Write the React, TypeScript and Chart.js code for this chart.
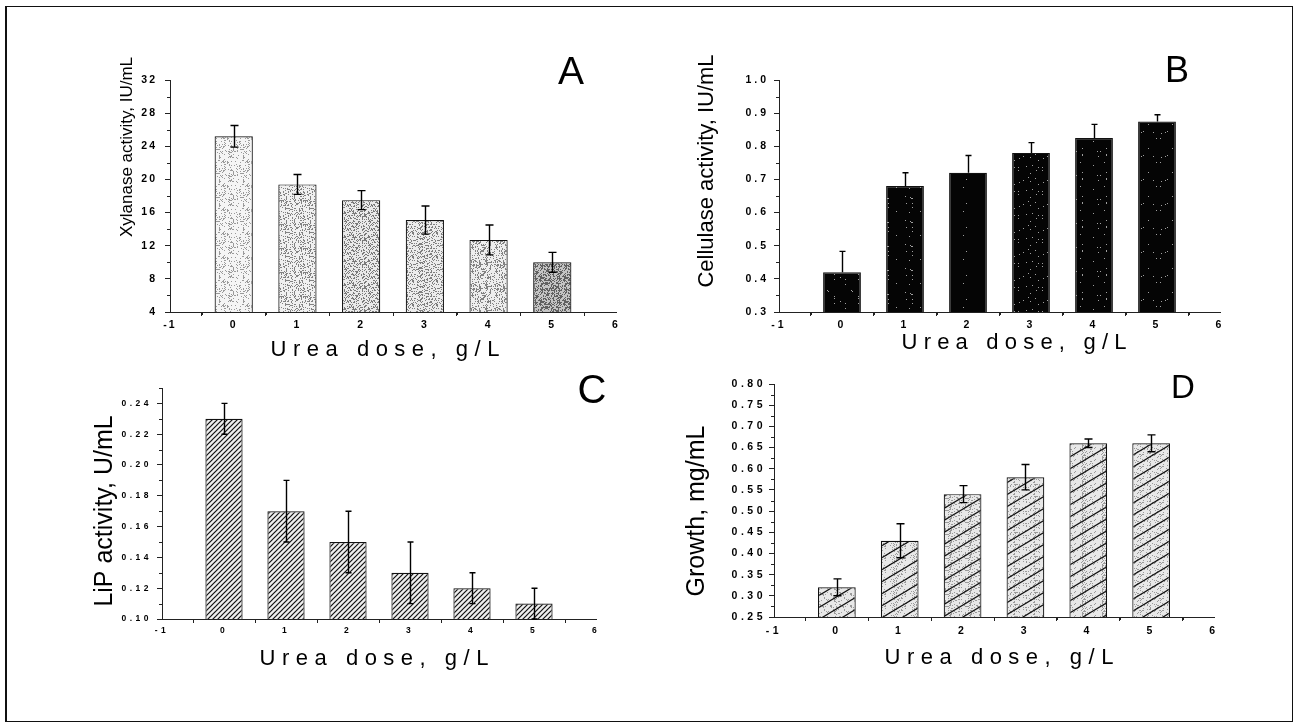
import React, { useEffect, useRef } from "react";
import { Chart, registerables } from "chart.js";
Chart.register(...registerables);

// ---------- data ----------
const doses = [0, 1, 2, 3, 4, 5];

const xylanase = [25.2, 19.4, 17.5, 15.1, 12.7, 10.0];
const xylanaseErr = [1.3, 1.2, 1.15, 1.7, 1.8, 1.2];

const cellulase = [0.42, 0.68, 0.72, 0.78, 0.825, 0.875];
const cellulaseErr = [0.063, 0.04, 0.052, 0.031, 0.041, 0.02];

const lip = [0.23, 0.17, 0.15, 0.13, 0.12, 0.11];
const lipErr = [0.01, 0.02, 0.02, 0.02, 0.01, 0.01];

const growth = [0.32, 0.43, 0.54, 0.58, 0.66, 0.66];
const growthErr = [0.02, 0.04, 0.02, 0.03, 0.01, 0.02];

const xAxisTitle = "Urea dose, g/L";
const yTitles = [
  "Xylanase activity, IU/mL",
  "Cellulase activity, IU/mL",
  "LiP activity, U/mL",
  "Growth, mg/mL",
];
const panelLetters = ["A", "B", "C", "D"];

const xMin = -1;
const xMax = 6;
const xStep = 1;

const yMins = [4, 0.3, 0.1, 0.25];
const yMaxs = [32, 1.0, 0.25, 0.8];
const ySteps = [4, 0.1, 0.02, 0.05];
const yDecimals = [0, 1, 2, 2];

const seriesValues = [xylanase, cellulase, lip, growth];
const seriesErrors = [xylanaseErr, cellulaseErr, lipErr, growthErr];

// ---------- styles / layout ----------
const FONT = '"Liberation Sans", Arial, Helvetica, sans-serif';

type FillSpec = {
  w: number;
  h: number;
  base: string;
  dot?: string;
  density?: number;
  seed?: number;
  hatch?: { color: string; width: number };
};

type PanelLayout = {
  left: number;
  top: number;
  w: number;
  h: number;
  area: { l: number; r: number; t: number; b: number };
  tickSize: number;
  tickSpacing: number;
  yTickPad: number;
  xTickPad: number;
  yTitle: { x: number; y: number; size: number };
  xTitle: { x: number; y: number; size: number; spacing: number };
  letter: { x: number; y: number; size: number };
  fills: FillSpec[];
  upOnly: boolean;
  cap: number;
};

const stippleA = (base: string, dot: string, density: number, seed: number): FillSpec => ({
  w: 24, h: 24, base, dot, density, seed,
});

const layouts: PanelLayout[] = [
  {
    left: 0, top: 0, w: 648, h: 362,
    area: { l: 170, r: 616, t: 80, b: 312 },
    tickSize: 10.5, tickSpacing: 2, yTickPad: 8, xTickPad: 3,
    yTitle: { x: 127, y: 147, size: 17 },
    xTitle: { x: 385, y: 350, size: 22, spacing: 6.5 },
    letter: { x: 571, y: 73, size: 39 },
    fills: [
      stippleA("#f5f5f5", "#9a9a9a", 0.2, 11),
      stippleA("#f0f0f0", "#828282", 0.25, 23),
      stippleA("#eaeaea", "#7a7a7a", 0.3, 37),
      stippleA("#ececec", "#7e7e7e", 0.28, 41),
      stippleA("#eeeeee", "#828282", 0.26, 53),
      stippleA("#c4c4c4", "#606060", 0.42, 67),
    ],
    upOnly: false,
    cap: 4,
  },
  {
    left: 648, top: 0, w: 649, h: 362,
    area: { l: 131, r: 572, t: 80, b: 312 },
    tickSize: 10.5, tickSpacing: 3, yTickPad: 5, xTickPad: 3,
    yTitle: { x: 59, y: 171, size: 22 },
    xTitle: { x: 366, y: 343, size: 22, spacing: 6.2 },
    letter: { x: 529, y: 72, size: 36 },
    fills: Array.from({ length: 6 }, (_, i) => ({
      w: 24, h: 24, base: "#050505", dot: "#a0a0a0", density: 0.012, seed: 100 + i * 7,
    })),
    upOnly: true,
    cap: 3,
  },
  {
    left: 0, top: 362, w: 648, h: 362,
    area: { l: 162, r: 596, t: 26, b: 257 },
    tickSize: 8.5, tickSpacing: 3.5, yTickPad: 5, xTickPad: 3,
    yTitle: { x: 105, y: 149, size: 25 },
    xTitle: { x: 374, y: 297, size: 22, spacing: 6.5 },
    letter: { x: 592, y: 30, size: 40 },
    fills: Array.from({ length: 6 }, () => ({
      w: 5, h: 5, base: "#eeeeee", hatch: { color: "#111111", width: 1.2 },
    })),
    upOnly: false,
    cap: 3,
  },
  {
    left: 648, top: 362, w: 649, h: 362,
    area: { l: 126, r: 566, t: 22, b: 255 },
    tickSize: 10.5, tickSpacing: 3.5, yTickPad: 3, xTickPad: 4,
    yTitle: { x: 49, y: 149, size: 25 },
    xTitle: { x: 351, y: 296, size: 22, spacing: 6.5 },
    letter: { x: 535, y: 27, size: 33 },
    fills: Array.from({ length: 6 }, (_, i) => ({
      w: 20, h: 12, base: "#e8e8e8", dot: "#9a9a9a", density: 0.18, seed: 300 + i * 5,
      hatch: { color: "#111111", width: 1.2 },
    })),
    upOnly: false,
    cap: 4,
  },
];

// deterministic texture generator (style only)
function lcg(seed: number) {
  let s = seed >>> 0;
  return () => {
    s = (Math.imul(s, 1664525) + 1013904223) >>> 0;
    return s / 4294967296;
  };
}

function makeFill(ctx: CanvasRenderingContext2D, f: FillSpec): CanvasPattern | string {
  const c = document.createElement("canvas");
  c.width = f.w;
  c.height = f.h;
  const g = c.getContext("2d");
  if (!g) return f.base;
  g.fillStyle = f.base;
  g.fillRect(0, 0, f.w, f.h);
  if (f.dot && f.density) {
    const r = lcg(f.seed || 1);
    g.fillStyle = f.dot;
    for (let y = 0; y < f.h; y++) {
      for (let x = 0; x < f.w; x++) {
        if (r() < f.density) g.fillRect(x, y, 1, 1);
      }
    }
  }
  if (f.hatch) {
    g.strokeStyle = f.hatch.color;
    g.lineWidth = f.hatch.width;
    for (const c0 of [0, f.h, 2 * f.h]) {
      g.beginPath();
      g.moveTo(-1, c0 + f.h / f.w);
      g.lineTo(f.w + 1, c0 - f.h - f.h / f.w);
      g.stroke();
    }
  }
  return ctx.createPattern(c, "repeat") || f.base;
}

function makeDecor(idx: number) {
  const L = layouts[idx];
  const values = seriesValues[idx];
  const errors = seriesErrors[idx];
  return {
    id: "panelDecor" + idx,
    beforeDraw(chart: any) {
      (chart.ctx as any).letterSpacing = L.tickSpacing + "px";
    },
    afterDatasetsDraw(chart: any) {
      const ctx: CanvasRenderingContext2D = chart.ctx;
      const xs = chart.scales.x;
      const ys = chart.scales.y;
      ctx.save();
      ctx.strokeStyle = "#000";
      ctx.lineWidth = 1.4;
      values.forEach((v, i) => {
        const e = errors[i];
        const px = Math.round(xs.getPixelForValue(doses[i])) + 0.5;
        const top = ys.getPixelForValue(v + e);
        const bot = L.upOnly ? ys.getPixelForValue(v) : ys.getPixelForValue(v - e);
        ctx.beginPath();
        ctx.moveTo(px, top);
        ctx.lineTo(px, bot);
        ctx.moveTo(px - L.cap, top);
        ctx.lineTo(px + L.cap, top);
        if (!L.upOnly) {
          ctx.moveTo(px - L.cap, bot);
          ctx.lineTo(px + L.cap, bot);
        }
        ctx.stroke();
      });
      ctx.restore();
    },
    afterDraw(chart: any) {
      const ctx: CanvasRenderingContext2D = chart.ctx;
      const xs = chart.scales.x;
      const ys = chart.scales.y;
      const area = chart.chartArea;
      ctx.save();
      (ctx as any).letterSpacing = "0px";
      // minor ticks
      ctx.strokeStyle = "#222";
      ctx.lineWidth = 1;
      ctx.beginPath();
      const step = ySteps[idx];
      for (let k = 0; ; k++) {
        const v = yMins[idx] + step / 2 + k * step;
        if (v > yMaxs[idx] + 1e-9) break;
        const py = Math.round(ys.getPixelForValue(v)) + 0.5;
        ctx.moveTo(area.left - 3, py);
        ctx.lineTo(area.left, py);
      }
      for (let k = 0; ; k++) {
        const v = xMin + xStep / 2 + k * xStep;
        if (v > xMax) break;
        const px = Math.round(xs.getPixelForValue(v)) + 0.5;
        ctx.moveTo(px, area.bottom);
        ctx.lineTo(px, area.bottom + 3);
      }
      ctx.stroke();

      ctx.fillStyle = "#000";
      // y title
      ctx.save();
      ctx.font = `${L.yTitle.size}px ${FONT}`;
      ctx.translate(L.yTitle.x, L.yTitle.y);
      ctx.rotate(-Math.PI / 2);
      ctx.textAlign = "center";
      ctx.textBaseline = "middle";
      ctx.fillText(yTitles[idx], 0, 0);
      ctx.restore();
      // x title
      ctx.save();
      ctx.font = `${L.xTitle.size}px ${FONT}`;
      (ctx as any).letterSpacing = L.xTitle.spacing + "px";
      ctx.textAlign = "center";
      ctx.textBaseline = "middle";
      ctx.fillText(xAxisTitle, L.xTitle.x + L.xTitle.spacing / 2, L.xTitle.y);
      ctx.restore();
      // panel letter
      ctx.font = `${L.letter.size}px ${FONT}`;
      ctx.textAlign = "center";
      ctx.textBaseline = "middle";
      ctx.fillText(panelLetters[idx], L.letter.x, L.letter.y);
      ctx.restore();
    },
  };
}

function Panel({ idx }: { idx: number }) {
  const ref = useRef<HTMLCanvasElement | null>(null);
  useEffect(() => {
    const canvas = ref.current;
    if (!canvas) return;
    const ctx = canvas.getContext("2d");
    if (!ctx) return;
    const L = layouts[idx];
    const fills = L.fills.map((f) => makeFill(ctx, f));
    const tickFont = { family: FONT, size: L.tickSize, weight: "bold" as const };
    const dec = yDecimals[idx];
    const chart = new Chart(canvas, {
      type: "bar",
      data: {
        datasets: [
          {
            data: doses.map((d, i) => ({ x: d, y: seriesValues[idx][i] })) as any,
            backgroundColor: fills as any,
            borderColor: "#111",
            borderWidth: 1.2,
            borderSkipped: false,
            barPercentage: 0.6,
            categoryPercentage: 1,
          },
        ],
      },
      options: {
        responsive: false,
        animation: false,
        events: [],
        layout: {
          padding: { left: 0, top: L.area.t, right: L.w - L.area.r, bottom: 0 },
        },
        plugins: { legend: { display: false }, tooltip: { enabled: false } },
        scales: {
          x: {
            type: "linear",
            min: xMin,
            max: xMax,
            offset: false,
            afterFit: (s: any) => {
              s.height = L.h - L.area.b;
            },
            ticks: {
              stepSize: xStep,
              autoSkip: false,
              maxRotation: 0,
              color: "#000",
              font: tickFont,
              padding: L.xTickPad,
              callback: (v: any) => String(v),
            },
            grid: { drawOnChartArea: false, drawTicks: true, tickLength: 4, color: "#222", lineWidth: 1 },
            border: { display: true, color: "#222", width: 1 },
          },
          y: {
            type: "linear",
            min: yMins[idx],
            max: yMaxs[idx],
            afterFit: (s: any) => {
              s.width = L.area.l;
            },
            ticks: {
              stepSize: ySteps[idx],
              includeBounds: false,
              color: "#000",
              font: tickFont,
              padding: L.yTickPad,
              callback: (v: any) => Number(v).toFixed(dec),
            },
            grid: { drawOnChartArea: false, drawTicks: true, tickLength: 5, color: "#222", lineWidth: 1 },
            border: { display: true, color: "#222", width: 1 },
          },
        },
      } as any,
      plugins: [makeDecor(idx) as any],
    });
    return () => chart.destroy();
  }, [idx]);
  const L = layouts[idx];
  return (
    <canvas
      ref={ref}
      width={L.w}
      height={L.h}
      style={{ position: "absolute", left: L.left, top: L.top, width: L.w, height: L.h }}
    />
  );
}

export default function App() {
  return (
    <div
      style={{
        position: "absolute",
        left: 0,
        top: 0,
        width: 1297,
        height: 724,
        background: "#fff",
        overflow: "hidden",
      }}
    >
      {[0, 1, 2, 3].map((i) => (
        <Panel key={i} idx={i} />
      ))}
      <div
        style={{
          position: "absolute",
          left: 5,
          top: 6,
          width: 1288,
          height: 716,
          boxSizing: "border-box",
          border: "1px solid #111",
          borderLeft: "2px solid #111",
          pointerEvents: "none",
        }}
      />
    </div>
  );
}
